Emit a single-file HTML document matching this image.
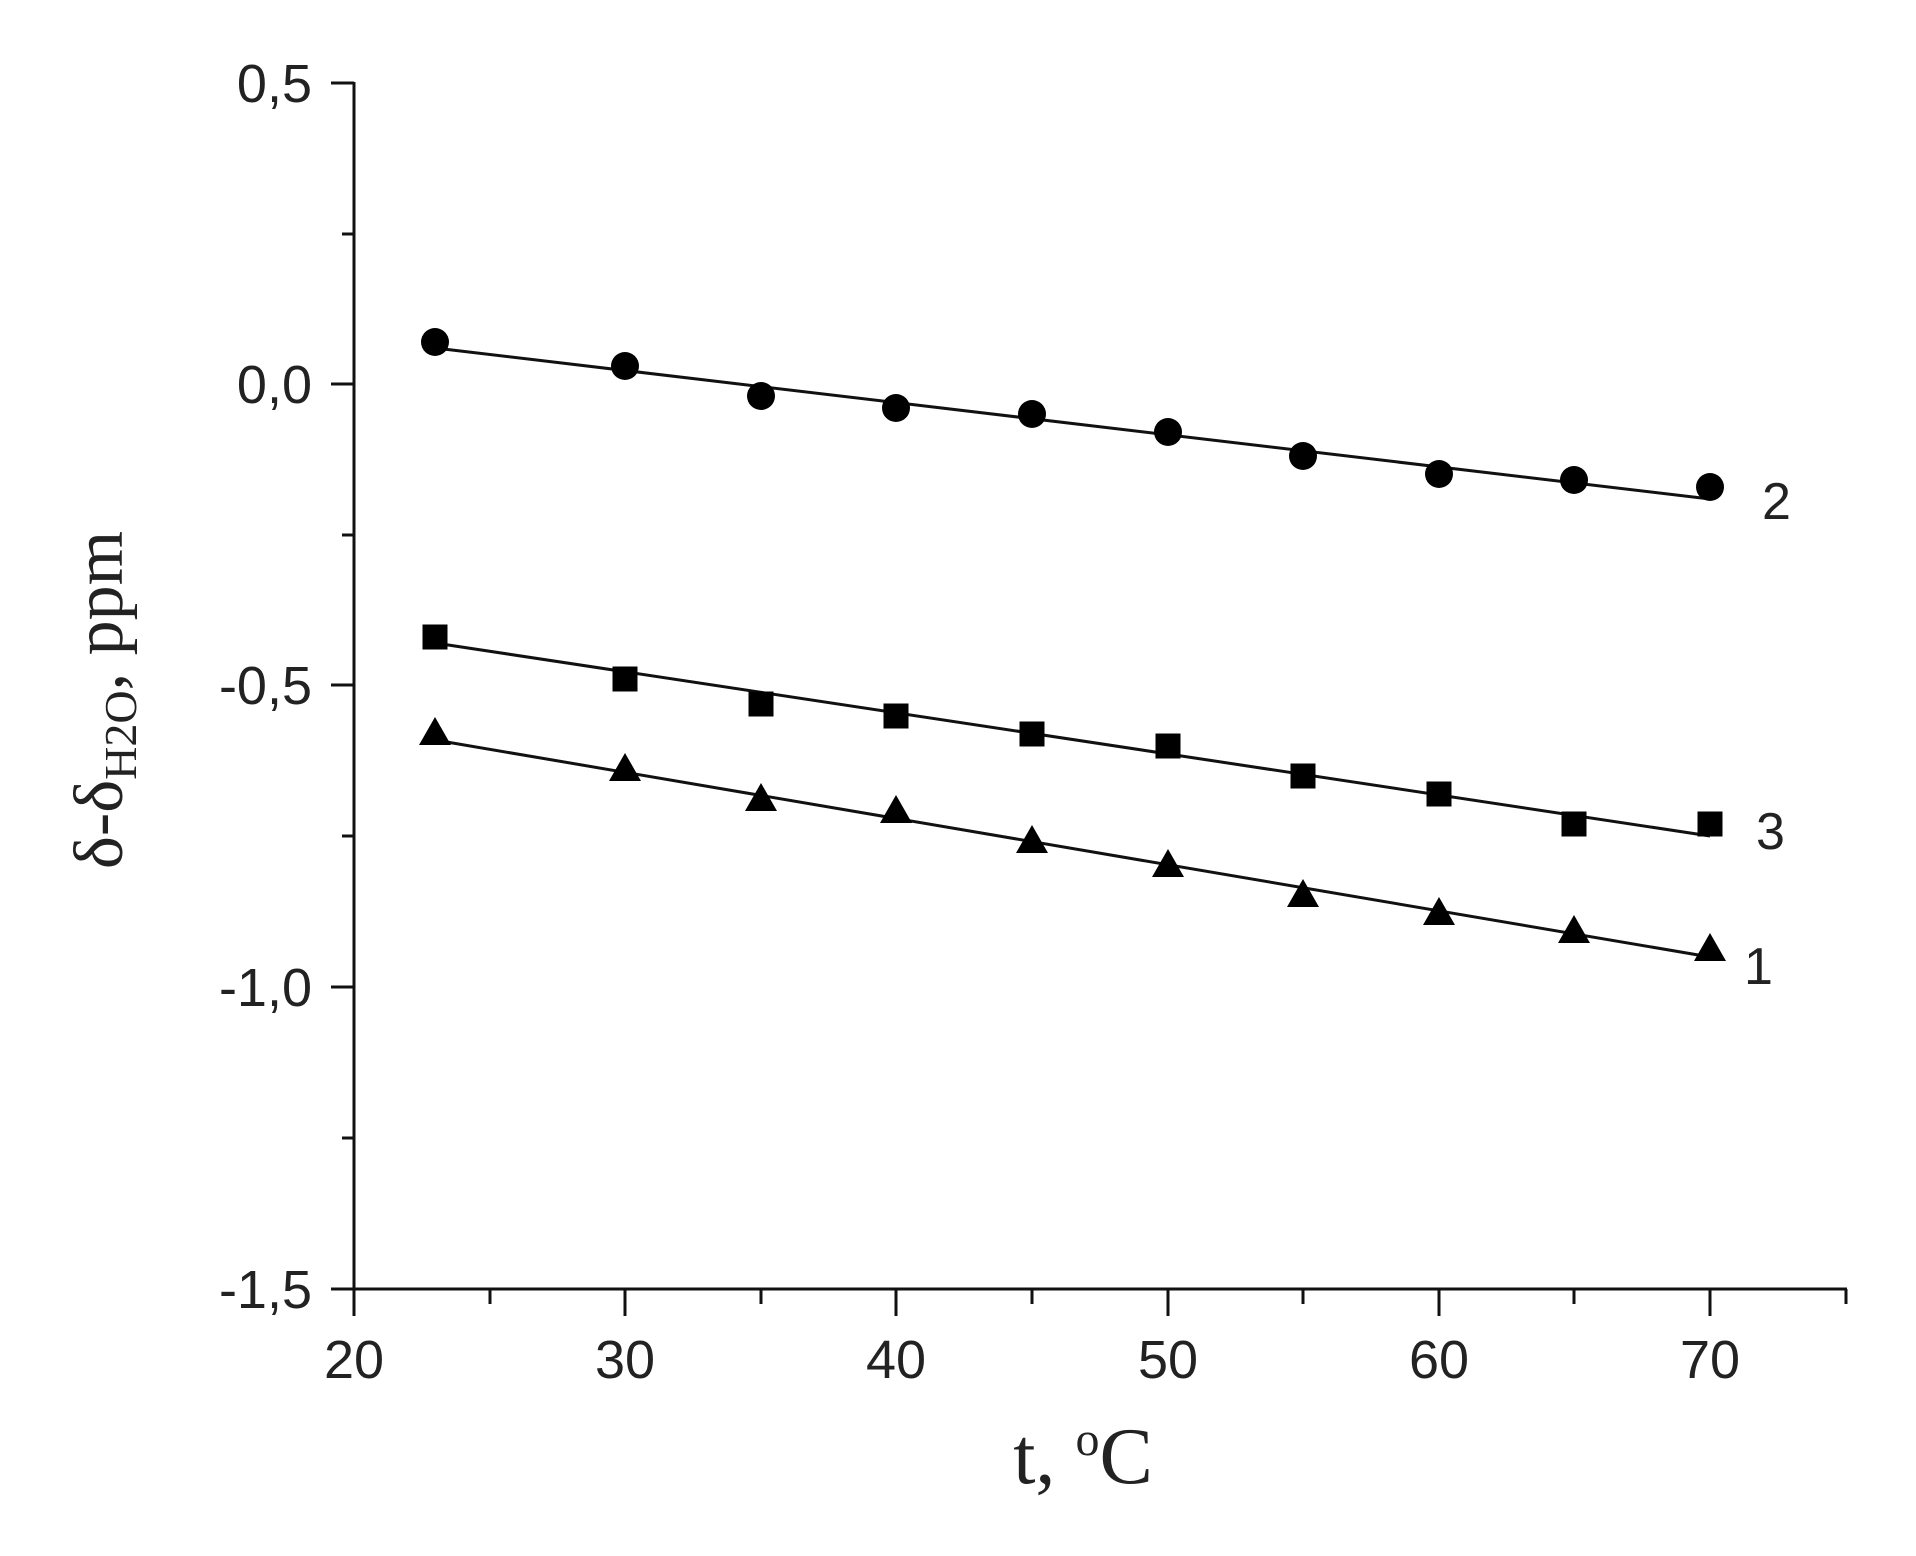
<!DOCTYPE html>
<html><head><style>body{margin:0;background:#fff}svg{display:block}</style></head><body>
<svg width="1916" height="1556" xmlns="http://www.w3.org/2000/svg">
<g stroke="#111" stroke-width="3" fill="none">
<line x1="354" y1="82" x2="354" y2="1290"/>
<line x1="352" y1="1289" x2="1847" y2="1289"/>
<line x1="331" y1="83" x2="354" y2="83"/>
<line x1="331" y1="384" x2="354" y2="384"/>
<line x1="331" y1="685" x2="354" y2="685"/>
<line x1="331" y1="987" x2="354" y2="987"/>
<line x1="331" y1="1289" x2="354" y2="1289"/>
<line x1="342" y1="234" x2="354" y2="234"/>
<line x1="342" y1="535" x2="354" y2="535"/>
<line x1="342" y1="836" x2="354" y2="836"/>
<line x1="342" y1="1138" x2="354" y2="1138"/>
<line x1="354" y1="1289" x2="354" y2="1316"/>
<line x1="625" y1="1289" x2="625" y2="1316"/>
<line x1="896" y1="1289" x2="896" y2="1316"/>
<line x1="1168" y1="1289" x2="1168" y2="1316"/>
<line x1="1439" y1="1289" x2="1439" y2="1316"/>
<line x1="1710" y1="1289" x2="1710" y2="1316"/>
<line x1="490" y1="1289" x2="490" y2="1304"/>
<line x1="761" y1="1289" x2="761" y2="1304"/>
<line x1="1032" y1="1289" x2="1032" y2="1304"/>
<line x1="1303" y1="1289" x2="1303" y2="1304"/>
<line x1="1574" y1="1289" x2="1574" y2="1304"/>
<line x1="1846" y1="1289" x2="1846" y2="1304"/>
</g>
<g font-family="Liberation Sans, sans-serif" font-size="54" fill="#222">
<g text-anchor="end">
<text x="312" y="102">0,5</text>
<text x="312" y="403">0,0</text>
<text x="312" y="704">-0,5</text>
<text x="312" y="1006">-1,0</text>
<text x="312" y="1308">-1,5</text>
</g>
<g text-anchor="middle">
<text x="354" y="1378">20</text>
<text x="625" y="1378">30</text>
<text x="896" y="1378">40</text>
<text x="1168" y="1378">50</text>
<text x="1439" y="1378">60</text>
<text x="1710" y="1378">70</text>
</g>
<text x="1762" y="519" font-size="52">2</text>
<text x="1756" y="849" font-size="52">3</text>
<text x="1744" y="984" font-size="52">1</text>
</g>
<text x="1083" y="1483" text-anchor="middle" font-family="Liberation Serif, serif" font-size="80" fill="#222">t, <tspan font-size="48" dy="-28">o</tspan><tspan dy="28">C</tspan></text>
<text transform="translate(122,700) rotate(-90)" text-anchor="middle" font-family="Liberation Serif, serif" font-size="70" fill="#222">δ-δ<tspan font-size="46" dy="14">H2O</tspan><tspan dy="-14">, ppm</tspan></text>
<g stroke="#111" stroke-width="3">
<line x1="435" y1="348" x2="1710" y2="499"/>
<line x1="435" y1="643" x2="1710" y2="836"/>
<line x1="435" y1="740" x2="1710" y2="957"/>
</g>
<g fill="#000">
<circle cx="435" cy="342" r="14"/><circle cx="625" cy="366" r="14"/><circle cx="761" cy="396" r="14"/><circle cx="896" cy="408" r="14"/><circle cx="1032" cy="414" r="14"/><circle cx="1168" cy="432" r="14"/><circle cx="1303" cy="456" r="14"/><circle cx="1439" cy="474" r="14"/><circle cx="1574" cy="480" r="14"/><circle cx="1710" cy="487" r="14"/>
<g transform="translate(-12.5,-12.5)">
<rect x="435" y="637" width="25" height="25"/><rect x="625" y="679" width="25" height="25"/><rect x="761" y="704" width="25" height="25"/><rect x="896" y="716" width="25" height="25"/><rect x="1032" y="734" width="25" height="25"/><rect x="1168" y="746" width="25" height="25"/><rect x="1303" y="776" width="25" height="25"/><rect x="1439" y="794" width="25" height="25"/><rect x="1574" y="824" width="25" height="25"/><rect x="1710" y="824" width="25" height="25"/>
</g>
<path d="M435 717l-16 28h32z M625 753l-16 28h32z M761 783l-16 28h32z M896 795l-16 28h32z M1032 825l-16 28h32z M1168 849l-16 28h32z M1303 879l-16 28h32z M1439 897l-16 28h32z M1574 915l-16 28h32z M1710 933l-16 28h32z"/>
</g>
</svg>
</body></html>
